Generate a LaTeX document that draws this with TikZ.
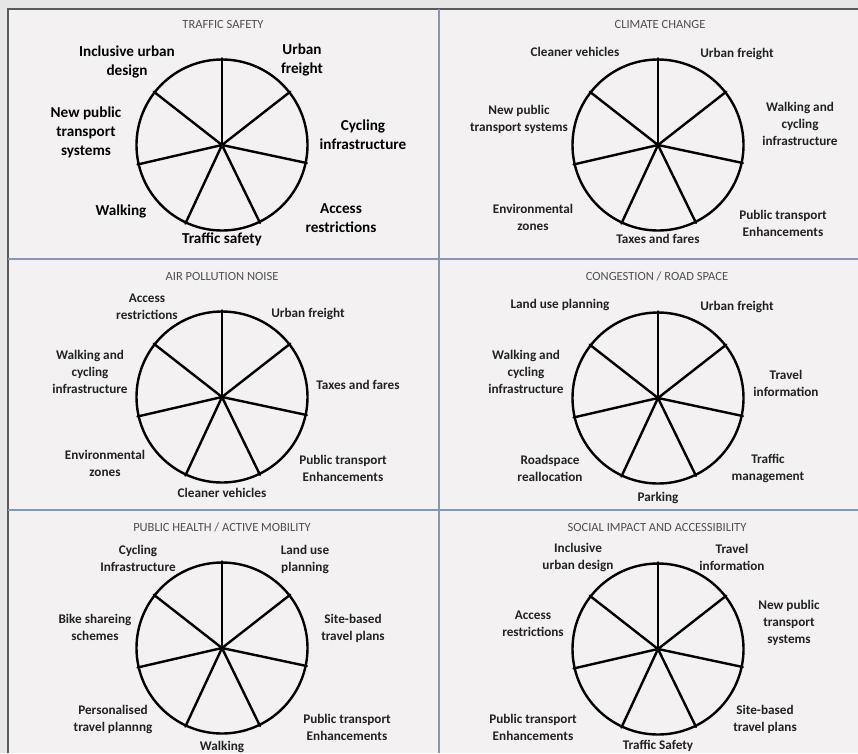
\documentclass[tikz,border=0pt]{standalone}
\usepackage{fontspec}
\setmainfont{Carlito}
\definecolor{paper}{HTML}{F3F1F1}
\definecolor{margin}{HTML}{E6E6E6}
\definecolor{frameline}{HTML}{5A5A5A}
\definecolor{rule}{HTML}{8497B5}
\definecolor{inktext}{HTML}{222222}
\definecolor{headtext}{HTML}{505050}
\tikzset{
wheel/.style={circle,draw=black,line width=2.4pt,minimum size=171pt,inner sep=0pt},
spoke/.style={line width=2.4pt,draw=black,line cap=round},
lab/.style={align=center,font=\bfseries\fontsize{13.2}{17}\selectfont,text=inktext,inner sep=1pt},
biglab/.style={lab,font=\bfseries\fontsize{15.2}{19}\selectfont,text=black},
head/.style={font=\fontsize{12.5}{14}\selectfont,text=headtext,inner sep=1pt},
divider/.style={draw=rule,line width=1.3pt}}
\begin{document}
\begin{tikzpicture}[x=1pt,y=-1pt]
\useasboundingbox (0,0) rectangle (858,753);
\fill[margin] (0,0) rectangle (858,753);
\fill[paper] (8,9) rectangle (858,753);
\draw[frameline,line width=1.2pt] (8,753)--(8,9)--(858,9);
\draw[divider] (439,9)--(439,753);
\draw[divider] (8,259)--(858,259);
\draw[divider] (8,510)--(858,510);
\foreach \w/\cx/\cy in {1/222/145,2/658/145,3/222/397,4/658/398,5/222/648,6/658/649}{
  \node[wheel] (w\w) at (\cx,\cy) {};
  \foreach \k [evaluate=\k as \a using 90-\k*360/7] in {0,...,6}
    \draw[spoke] (w\w.center)--(w\w.\a);
}
\node[head] (safetyhead) at (223,24) {TRAFFIC SAFETY};
\node[biglab] (s-design) at (127,62) {Inclusive urban\\design};
\node[biglab] (s-freight) at (302,60) {Urban\\freight};
\node[biglab] (s-newpt) at (86,132) {New public\\transport\\systems};
\node[biglab] (s-cycling) at (363,135) {Cycling\\infrastructure};
\node[biglab] (s-walking) at (121,211) {Walking};
\node[biglab] (s-access) at (341,218) {Access\\restrictions};
\node[biglab] (s-safety) at (222,239) {Traffic safety};
\node[head] (climatehead) at (660,24) {CLIMATE CHANGE};
\node[lab] (c-cleaner) at (575,52) {Cleaner vehicles};
\node[lab] (c-freight) at (737,54) {Urban freight};
\node[lab] (c-newpt) at (519,119) {New public\\transport systems};
\node[lab] (c-walkcycle) at (800,124) {Walking and\\cycling\\infrastructure};
\node[lab] (c-zones) at (533,217) {Environmental\\zones};
\node[lab] (c-ptenh) at (783,223) {Public transport\\Enhancements};
\node[lab] (c-fares) at (658,239) {Taxes and fares};
\node[head] (airhead) at (222,276) {AIR POLLUTION NOISE};
\node[lab] (a-access) at (147,307) {Access\\restrictions};
\node[lab] (a-freight) at (308,314) {Urban freight};
\node[lab] (a-walkcycle) at (90,372) {Walking and\\cycling\\infrastructure};
\node[lab] (a-fares) at (358,385) {Taxes and fares};
\node[lab] (a-zones) at (105,463) {Environmental\\zones};
\node[lab] (a-ptenh) at (343,468) {Public transport\\Enhancements};
\node[lab] (a-cleaner) at (222,493) {Cleaner vehicles};
\node[head] (roadhead) at (657,276) {CONGESTION / ROAD SPACE};
\node[lab] (r-landuse) at (560,305) {Land use planning};
\node[lab] (r-freight) at (737,307) {Urban freight};
\node[lab] (r-walkcycle) at (526,372) {Walking and\\cycling\\infrastructure};
\node[lab] (r-info) at (786,383) {Travel\\information};
\node[lab] (r-realloc) at (550,468) {Roadspace\\reallocation};
\node[lab] (r-mgmt) at (768,468) {Traffic\\management};
\node[lab] (r-parking) at (658,498) {Parking};
\node[head] (healthhead) at (222,527) {PUBLIC HEALTH / ACTIVE MOBILITY};
\node[lab] (h-cycling) at (138,558) {Cycling\\Infrastructure};
\node[lab] (h-landuse) at (305,559) {Land use\\planning};
\node[lab] (h-bikes) at (95,627) {Bike shareing\\schemes};
\node[lab] (h-siteplans) at (353,628) {Site-based\\travel plans};
\node[lab] (h-personal) at (113,719) {Personalised\\travel plannng};
\node[lab] (h-ptenh) at (347,727) {Public transport\\Enhancements};
\node[lab] (h-walking) at (222,747) {Walking};
\node[head] (socialhead) at (657,527) {SOCIAL IMPACT AND ACCESSIBILITY};
\node[lab] (i-design) at (578,557) {Inclusive\\urban design};
\node[lab] (i-info) at (732,557) {Travel\\information};
\node[lab] (i-access) at (533,624) {Access\\restrictions};
\node[lab] (i-newpt) at (789,623) {New public\\transport\\systems};
\node[lab] (i-ptenh) at (533,727) {Public transport\\Enhancements};
\node[lab] (i-siteplans) at (765,719) {Site-based\\travel plans};
\node[lab] (i-safety) at (658,746) {Traffic Safety};
\end{tikzpicture}
\end{document}
